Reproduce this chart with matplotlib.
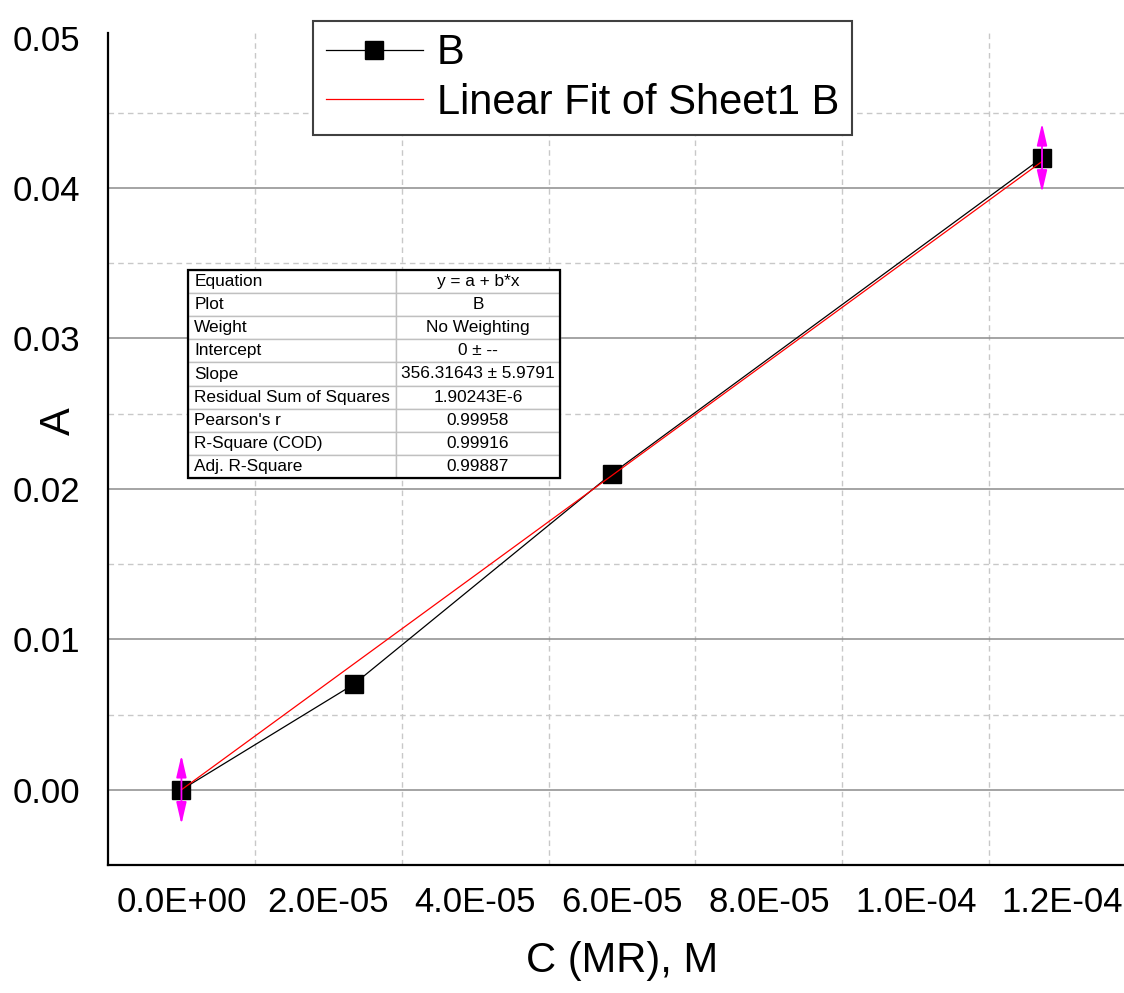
"""
Calibration curve for MR: absorbance vs. concentration with a linear fit through the origin
"""

import matplotlib
matplotlib.use('Agg')
import matplotlib.pyplot as plt
from matplotlib.ticker import FuncFormatter, MultipleLocator, FixedLocator
from matplotlib.patches import Rectangle

plt.rcParams['font.family'] = ['Liberation Sans', 'DejaVu Sans']

# measured points
conc = [0.0, 2.344e-5, 5.86e-5, 1.172e-4]
absorb = [0.0, 0.007, 0.021, 0.042]
# vertical error arrows shown only on the end points
y_err = [0.0023, 0.0, 0.0, 0.0023]

# fit results reported by the fit (intercept fixed at 0)
SLOPE = 356.31643
INTERCEPT = 0.0

fit_rows = ['Equation', 'Plot', 'Weight', 'Intercept', 'Slope',
            'Residual Sum of Squares', "Pearson's r", 'R-Square (COD)',
            'Adj. R-Square']
fit_values = ['y = a + b*x', 'B', 'No Weighting', '0 \u00b1 --',
              '356.31643 \u00b1 5.9791', '1.90243E-6', '0.99958', '0.99916',
              '0.99887']

W, H = 1124, 993
fig = plt.figure(figsize=(W / 100, H / 100), dpi=100)
# plot area: left spine at x=108px, bottom at y=865px, x axis runs past the right edge
ax = fig.add_axes([108 / W, 1 - 865 / H, 1028 / W, 832 / H])

ax.set_xlim(-1.0e-5, 1.3e-4)
ax.set_ylim(-0.005, 0.0503)

# grid: solid majors on y, dashed minors on both axes
ax.xaxis.set_major_locator(FixedLocator([0, 2e-5, 4e-5, 6e-5, 8e-5, 1e-4, 1.2e-4]))
ax.xaxis.set_minor_locator(FixedLocator([1e-5, 3e-5, 5e-5, 7e-5, 9e-5, 1.1e-4]))
ax.yaxis.set_major_locator(MultipleLocator(0.01))
ax.yaxis.set_minor_locator(MultipleLocator(0.005))
ax.grid(which='major', axis='y', color='#8c8c8c', linewidth=1.1, linestyle='-')
ax.grid(which='minor', axis='both', color='#c8c8c8', linewidth=1.0,
        linestyle=(0, (4, 3)))
ax.set_axisbelow(True)

ax.xaxis.set_major_formatter(FuncFormatter(lambda v, p: f'{v:.1E}'))
ax.yaxis.set_major_formatter(FuncFormatter(lambda v, p: f'{v:.2f}'))
ax.tick_params(which='both', length=0)
ax.tick_params(axis='x', labelsize=25, pad=15)
ax.tick_params(axis='y', labelsize=25, pad=20)

for side in ['top', 'right']:
    ax.spines[side].set_visible(False)
for side in ['left', 'bottom']:
    ax.spines[side].set_linewidth(1.6)
    ax.spines[side].set_color('black')

# data and fit
ax.plot(conc, absorb, color='black', linewidth=0.9, marker='s',
        markersize=13.5, markerfacecolor='black', markeredgecolor='black',
        label='B', zorder=3)
fit_x = [0.0, conc[-1]]
fit_y = [INTERCEPT + SLOPE * x for x in fit_x]
ax.plot(fit_x, fit_y, color='red', linewidth=0.9,
        label='Linear Fit of Sheet1 B', zorder=4)

for x, y, e in zip(conc, absorb, y_err):
    if e > 0:
        ax.annotate('', xy=(x, y + e), xytext=(x, y - e),
                    arrowprops=dict(arrowstyle='<|-|>,head_length=0.95,head_width=0.22',
                                    color='magenta', lw=1.3, mutation_scale=14,
                                    shrinkA=0, shrinkB=0),
                    zorder=5)

ax.set_xlabel('C (MR), M', fontsize=30, labelpad=16)
ax.set_ylabel('A', fontsize=30)
ax.yaxis.set_label_coords(-0.028, 0.534)

leg = ax.legend(loc='upper left', bbox_to_anchor=(313 / W, 1 - 21 / H),
                bbox_transform=fig.transFigure, fontsize=30, frameon=True,
                fancybox=False, framealpha=1, edgecolor='#404040',
                borderpad=0.3, borderaxespad=0, handlelength=2.33,
                handletextpad=0.34, labelspacing=0.22)
leg.get_frame().set_linewidth(1.5)
leg.set_zorder(10)

# fit parameter table
tbl_x, tbl_y, tbl_w, tbl_h = 188, 270, 372, 208
col1 = 208
bbox = [(tbl_x - 108) / 1028, (865 - tbl_y - tbl_h) / 832, tbl_w / 1028, tbl_h / 832]
cells = [[r, v] for r, v in zip(fit_rows, fit_values)]
table = ax.table(cellText=cells, colWidths=[col1 / tbl_w, 1 - col1 / tbl_w],
                 bbox=bbox, zorder=8)
table.auto_set_font_size(False)
for (r, c), cell in table.get_celld().items():
    cell.set_edgecolor('#c0c0c0')
    cell.set_linewidth(1.0)
    cell.set_facecolor('white')
    cell.PAD = 0.03
    txt = cell.get_text()
    txt.set_fontsize(12.4)
    txt.set_color('black')
    txt.set_ha('left' if c == 0 else 'center')
    cell._loc = 'left' if c == 0 else 'center'
ax.add_patch(Rectangle((bbox[0], bbox[1]), bbox[2], bbox[3], transform=ax.transAxes,
                       fill=False, edgecolor='black', linewidth=1.6, zorder=9))

# no solid grid line along the top edge at 0.05
fig.canvas.draw()
for tick, loc in zip(ax.yaxis.get_major_ticks(), ax.yaxis.get_majorticklocs()):
    if loc > 0.045:
        tick.gridline.set_visible(False)

fig.savefig('out.png', dpi=100)
